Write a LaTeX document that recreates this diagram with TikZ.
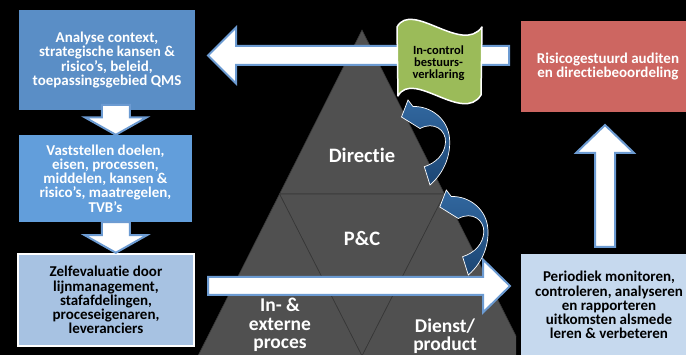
\documentclass[tikz,border=0pt]{standalone}
\usepackage{fontspec}
\setmainfont{Carlito}[Ligatures={NoCommon,NoContextual}]
\usetikzlibrary{calc}
\definecolor{boxA}{RGB}{90,142,198}
\definecolor{boxB}{RGB}{98,158,219}
\definecolor{boxC}{RGB}{167,194,226}
\definecolor{boxD}{RGB}{198,217,238}
\definecolor{redbox}{RGB}{205,102,97}
\definecolor{pyr}{RGB}{80,80,80}
\definecolor{pyrline}{RGB}{55,55,55}
\definecolor{arrline}{RGB}{108,155,210}
\definecolor{flaggreen}{RGB}{155,187,89}
\definecolor{curvtop}{RGB}{50,104,160}
\definecolor{curvbot}{RGB}{28,70,116}
\newcommand\DownBlock[2]{\draw[blockarrow] ($(#1)+(-14,0)$) -- ($(#1)+(14,0)$) -- ($(#2)+(14,-17.5)$) -- ($(#2)+(31,-17.5)$) -- (#2) -- ($(#2)+(-31,-17.5)$) -- ($(#2)+(-14,-17.5)$) -- cycle;}
\newcommand\CurvArrow[1]{\path[curved, shift={#1}] (430,185) .. controls (445,172) and (451,154) .. (449.5,138) .. controls (448,120) and (432,106) .. (413,106.5) -- (408,100) -- (401.5,117) -- (420,128.5) .. controls (434,121) and (446,130) .. (445.5,142) .. controls (445,154) and (436,163) .. (424.3,166.7) -- cycle;}
\begin{document}
\begin{tikzpicture}[x=1pt,y=-1pt,
  box/.style={inner sep=0pt, align=center, font=\bfseries\fontsize{15}{14.2}\selectfont},
  blockarrow/.style={fill=white, draw=arrline, line width=2pt, line join=miter},
  piece/.style={fill=pyr, draw=pyrline, line width=0.6pt},
  pyrtext/.style={text=white, inner sep=0pt, font=\bfseries\fontsize{19.5}{18.4}\selectfont, align=center},
  curved/.style={top color=curvtop, bottom color=curvbot, draw=white, line width=0.7pt}]
\fill[black] (0,0) rectangle (686,355);
\useasboundingbox (0,0) rectangle (686,355);
\clip (0,0) rectangle (686,355);
% pyramid
\coordinate (apex) at (362,30);
\coordinate (ml) at (279.5,194);
\coordinate (mr) at (444.5,194);
\coordinate (bl) at (197.9,356);
\coordinate (bm) at (362,356);
\coordinate (br) at (526.1,356);
\begin{scope}
\clip (0,0) rectangle (516,360);
\draw[piece] (apex) -- (mr) -- (ml) -- cycle;
\draw[piece] (ml) -- (mr) -- (bm) -- cycle;
\draw[piece] (ml) -- (bm) -- (bl) -- cycle;
\draw[piece] (mr) -- (br) -- (bm) -- cycle;
\end{scope}
\node[pyrtext, font=\bfseries\fontsize{20.5}{18.4}\selectfont] (dir) at (362,155) {Directie};
\node[pyrtext, font=\bfseries\fontsize{20.5}{18.4}\selectfont] (pc) at (362,238) {P\&C};
\node[pyrtext] (inex) at (280,325) {In- \&\\externe\\proces};
\node[pyrtext] (dienst) at (445,336) {Dienst/\\product};
% boxes
\node[box, fill=boxA, text=white, minimum width=176pt, minimum height=100pt] (analyse) at (107,60)
  {Analyse context,\\strategische kansen \&\\risico’s, beleid,\\toepassingsgebied QMS};
\node[box, fill=boxB, text=white, minimum width=173pt, minimum height=87pt] (vast) at (105.5,178.5)
  {Vaststellen doelen,\\eisen, processen,\\middelen, kansen \&\\risico’s, maatregelen,\\TVB’s};
\node[box, fill=boxC, draw=white, line width=2.5pt, text=black, minimum width=176pt, minimum height=92pt] (zelf) at (106,300)
  {Zelfevaluatie door\\lijnmanagement,\\stafafdelingen,\\proceseigenaren,\\leveranciers};
\node[box, fill=redbox, text=white, minimum width=174pt, minimum height=91pt] (audit) at (608,66.5)
  {Risicogestuurd auditen\\en directiebeoordeling};
\node[box, fill=boxD, text=black, minimum width=176pt, minimum height=102pt] (monitor) at (609,305)
  {Periodiek monitoren,\\controleren, analyseren\\en rapporteren\\uitkomsten alsmede\\leren \& verbeteren};
% down block arrows
\coordinate (d1s) at (115.8,105);
\coordinate (d1t) at (vast.north -| d1s);
\DownBlock{d1s}{d1t}
\coordinate (d2s) at (vast.south -| d1s);
\coordinate (d2t) at (zelf.north -| d1s);
\DownBlock{d2s}{d2t}
% up block arrow
\coordinate (u1s) at (605,247);
\coordinate (u1t) at (605,125);
\draw[blockarrow] ($(u1s)+(-10,0)$) -- ($(u1t)+(-10,28)$) -- ($(u1t)+(-29,28)$) -- (u1t) -- ($(u1t)+(29,28)$) -- ($(u1t)+(10,28)$) -- ($(u1s)+(10,0)$) -- cycle;
% top block arrow (left)
\coordinate (t1s) at (509,55.5);
\coordinate (t1t) at (208,55.5);
\draw[blockarrow] ($(t1s)+(0,-9.5)$) -- ($(t1t)+(28,-9.5)$) -- ($(t1t)+(28,-28)$) -- (t1t) -- ($(t1t)+(28,28)$) -- ($(t1t)+(28,9.5)$) -- ($(t1s)+(0,9.5)$) -- cycle;
% bottom block arrow (right)
\coordinate (b1s) at (208,286);
\coordinate (b1t) at (510,286);
\draw[blockarrow] ($(b1s)+(0,-9)$) -- ($(b1t)+(-27,-9)$) -- ($(b1t)+(-27,-26.5)$) -- (b1t) -- ($(b1t)+(-27,26.5)$) -- ($(b1t)+(-27,9)$) -- ($(b1s)+(0,9)$) -- cycle;
% flag
\draw[fill=flaggreen, draw=white, line width=1.5pt, line join=round] (397,27) .. controls (412,0) and (462,55) .. (482,27) -- (481,95) .. controls (463,124) and (413,69) .. (398,96) -- cycle;
\node[inner sep=0pt, align=center, text=black, font=\bfseries\fontsize{12.5}{12}\selectfont] (flag) at (438.5,63) {In-control\\bestuurs-\\verklaring};
% curved arrows
\CurvArrow{(0,0)}
\CurvArrow{(38.3,90)}
\end{tikzpicture}
\end{document}
